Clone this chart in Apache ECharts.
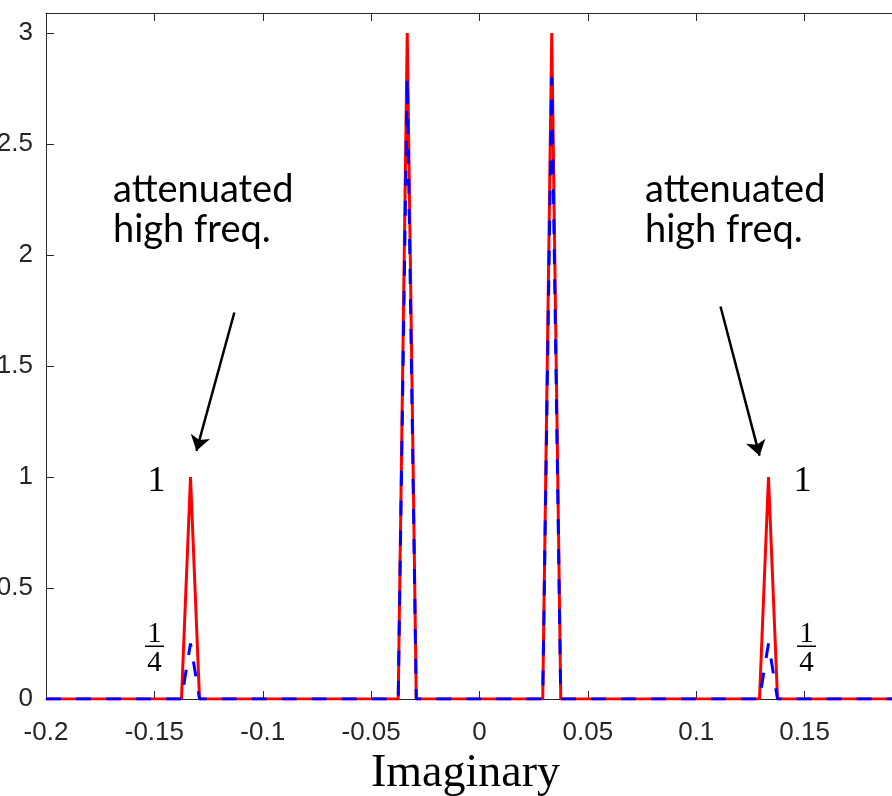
<!DOCTYPE html>
<html><head><meta charset="utf-8">
<script src="https://cdn.jsdelivr.net/npm/echarts@6/dist/echarts.min.js"></script>
<style>html,body{margin:0;padding:0;background:#fff}#c{width:892px;height:796px}</style>
</head><body><div id="c"></div>
<script>
// Frequency samples where the spectra change (zero elsewhere)
const freqs = [-0.2, -0.1375, -0.13333, -0.12917, -0.0375, -0.03333, -0.02917, 0.02917, 0.03333, 0.0375, 0.12917, 0.13333, 0.1375, 0.2];
// Red solid: original magnitude
const originalMag = [0, 0, 1, 0, 0, 3, 0, 0, 3, 0, 0, 1, 0, 0];
// Blue dashed: filtered magnitude
const filteredMag = [0, 0, 0.25, 0, 0, 2.8, 0, 0, 2.8, 0, 0, 0.25, 0, 0];
// Arrow annotations (data coords): [x1, y1, x2, y2]
const arrows = [[-0.1131, 1.741, -0.1306, 1.118], [0.1112, 1.768, 0.1292, 1.096]];
const annotationText = 'attenuated\nhigh freq.';
const xLabel = 'Imaginary';

const axisColor = '#262626';
const chart = echarts.init(document.getElementById('c'));
const pts = (ys) => freqs.map((x, i) => [x, ys[i]]);

const frac = (cx) => ({
  type: 'group', children: [
    {type: 'text', style: {x: cx, y: 634, text: '1', font: '29px "Liberation Serif"', fill: '#000', align: 'center', verticalAlign: 'middle'}},
    {type: 'rect', shape: {x: cx - 9.5, y: 645.5, width: 19, height: 1.5}, style: {fill: '#000'}},
    {type: 'text', style: {x: cx, y: 663, text: '4', font: '29px "Liberation Serif"', fill: '#000', align: 'center', verticalAlign: 'middle'}}
  ]
});

chart.setOption({
  animation: false,
  grid: {left: 46, top: 13, width: 867, height: 686, containLabel: false, outerBoundsMode: 'none'},
  xAxis: [{
    type: 'value', min: -0.2, max: 0.2, interval: 0.05, position: 'bottom',
    axisLine: {onZero: false, lineStyle: {color: axisColor, width: 1}},
    axisTick: {inside: true, length: 8, lineStyle: {color: axisColor}},
    axisLabel: {color: axisColor, fontFamily: 'Liberation Sans', fontSize: 26, margin: 21},
    splitLine: {show: false},
    name: xLabel, nameLocation: 'middle', nameGap: 52,
    nameTextStyle: {fontFamily: 'Liberation Serif', fontSize: 46, color: '#000', padding: [0, 28, 0, 0]}
  }, {
    type: 'value', min: -0.2, max: 0.2, interval: 0.05, position: 'top',
    axisLine: {onZero: false, lineStyle: {color: axisColor, width: 1}},
    axisTick: {inside: true, length: 8, lineStyle: {color: axisColor}},
    axisLabel: {show: false}, splitLine: {show: false}
  }],
  yAxis: [{
    type: 'value', min: 0, max: 3.09, interval: 0.5, position: 'left',
    axisLine: {show: true, onZero: false, lineStyle: {color: axisColor, width: 1}},
    axisTick: {show: true, inside: true, length: 8, lineStyle: {color: axisColor}},
    axisLabel: {color: axisColor, fontFamily: 'Liberation Sans', fontSize: 26, margin: 13, showMaxLabel: false},
    splitLine: {show: false}
  }],
  series: [{
    type: 'line', data: pts(originalMag), showSymbol: false, z: 2,
    lineStyle: {color: '#ff0000', width: 3},
    markLine: {
      silent: true, symbol: ['none', 'arrow'], symbolSize: 15, animation: false,
      label: {show: false},
      lineStyle: {color: '#000', width: 2.5, type: 'solid'},
      data: arrows.map(a => [{coord: [a[0], a[1]]}, {coord: [a[2], a[3]]}])
    }
  }, {
    type: 'line', data: pts(filteredMag), showSymbol: false, z: 3,
    lineStyle: {color: '#0000ff', width: 3, type: [15, 15]}
  }],
  graphic: [
    {type: 'text', style: {x: 113, y: 170, text: annotationText, font: '38px Lato', lineHeight: 40, fill: '#000', align: 'left', verticalAlign: 'top'}},
    {type: 'text', style: {x: 645, y: 170, text: annotationText, font: '38px Lato', lineHeight: 40, fill: '#000', align: 'left', verticalAlign: 'top'}},
    {type: 'text', style: {x: 156.5, y: 482, text: '1', font: '36px "Liberation Serif"', fill: '#000', align: 'center', verticalAlign: 'middle'}},
    {type: 'text', style: {x: 802.5, y: 482, text: '1', font: '36px "Liberation Serif"', fill: '#000', align: 'center', verticalAlign: 'middle'}},
    frac(154.5), frac(806.5)
  ]
});
</script></body></html>
